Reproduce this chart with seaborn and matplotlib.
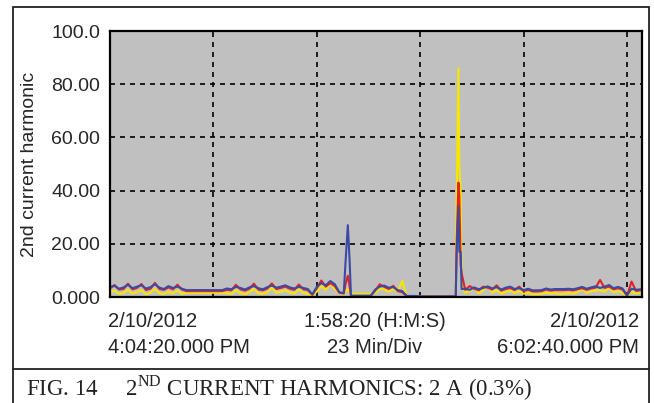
import pandas as pd
import matplotlib.pyplot as plt
from matplotlib.lines import Line2D
from matplotlib.patches import Rectangle
import seaborn as sns

# sample times in minutes after 4:04:20 PM (span 1:58:20), extra samples around the two spikes
minutes = (list(range(0, 53)) + [52.4, 52.9, 53.3, 53.6] + list(range(54, 77))
           + [76.9, 77.1, 77.5, 77.7, 78.0, 78.2] + list(range(79, 119)))

yellow = [1.8, 2.4, 1.2, 1.5, 2.8, 1.3, 1.9, 2.6, 1.0, 1.6, 3.0, 1.4, 1.1, 2.0, 1.3, 2.5, 1.2,
          1.6, 1.6, 1.6, 1.6, 1.6, 1.6, 1.6, 1.6, 1.6,
          1.4, 1.1, 2.6, 1.5, 1.0, 1.7, 3.1, 1.3, 1.2, 1.8, 3.4, 1.6, 2.0, 2.5, 1.7, 1.3, 2.9, 1.5, 1.2,
          0.6,
          2.0, 4.1, 2.7, 5.0, 3.0,
          1.4, 1.2,
          2.0, 3.0, 2.0, 1.2,
          1.2, 1.2, 1.2, 1.2, 1.2,
          1.5, 3.1, 2.9, 2.0, 3.0, 2.0, 6.0,
          0.3, 0.3, 0.3,
          0.2, 0.2, 0.2, 0.2, 0.2, 0.2, 0.2, 0.2,
          0.2, 35.0, 86.0, 49.0, 40.0, 5.0,
          1.6, 2.2, 3.5, 1.4, 2.4, 4.2, 1.7, 2.6, 1.3, 1.9, 2.4, 1.5, 2.2, 1.2, 1.6, 1.0, 1.0, 1.1, 1.6, 1.3,
          1.5, 1.0, 1.2, 1.4, 1.3, 1.8, 3.0, 1.5, 2.1, 2.4, 2.6, 2.0, 3.6, 1.8, 2.2, 1.6, 0.4, 2.0, 1.4, 1.6]

red = [3.2, 4.5, 2.8, 3.0, 5.0, 2.9, 3.4, 4.9, 2.6, 3.1, 5.3, 3.0, 2.7, 3.6, 2.9, 4.6, 2.8,
       2.2, 2.2, 2.2, 2.2, 2.2, 2.2, 2.2, 2.2, 2.2,
       2.7, 2.5, 4.6, 2.9, 2.4, 3.1, 5.0, 2.8, 2.5, 3.2, 5.1, 3.0, 3.4, 3.9, 3.1, 2.7, 4.7, 2.9, 2.6,
       0.8,
       3.3, 6.2, 3.9, 5.2, 4.1,
       1.6, 1.3,
       5.0, 8.0, 4.0, 0.4,
       0.4, 0.4, 0.4, 0.4, 0.4,
       2.4, 4.8, 3.8, 3.0, 4.2, 2.2, 1.8,
       0.3, 0.3, 0.3,
       0.2, 0.2, 0.2, 0.2, 0.2, 0.2, 0.2, 0.2,
       0.2, 20.0, 43.0, 38.0, 12.0, 9.0,
       2.7, 4.1, 3.1, 2.5, 3.9, 3.5, 2.8, 4.4, 2.4, 3.0, 3.4, 2.6, 3.9, 2.2, 2.7, 2.1, 2.1, 2.2, 2.8, 2.4,
       2.6, 2.6, 2.6, 2.7, 2.5, 2.9, 3.3, 2.7, 3.2, 3.5, 6.4, 3.4, 3.9, 2.9, 3.3, 2.8, 0.5, 5.8, 2.3, 2.5]

blue = [3.8, 4.2, 3.1, 3.6, 4.6, 3.3, 3.9, 4.4, 3.2, 3.7, 4.8, 3.5, 3.0, 4.1, 3.4, 3.9, 3.1,
        2.6, 2.6, 2.6, 2.6, 2.6, 2.6, 2.6, 2.6, 2.6,
        3.2, 2.9, 3.8, 3.4, 2.8, 3.6, 4.1, 3.3, 2.9, 3.7, 4.3, 3.5, 3.9, 4.4, 3.6, 3.2, 3.8, 3.4, 3.0,
        1.0,
        3.8, 5.2, 4.4, 6.0, 4.8,
        1.8, 1.5,
        13.5, 27.0, 13.5, 0.5,
        0.5, 0.5, 0.5, 0.5, 0.5,
        2.8, 3.9, 4.3, 3.5, 3.7, 2.6, 2.2,
        0.4, 0.4, 0.4,
        0.2, 0.2, 0.2, 0.2, 0.2, 0.2, 0.2, 0.2,
        0.2, 17.0, 34.0, 17.0, 17.0, 3.0,
        3.1, 2.7, 3.6, 2.9, 3.4, 4.0, 3.2, 3.7, 2.8, 3.5, 3.9, 3.0, 3.3, 2.6, 3.1, 2.5, 2.5, 2.6, 3.2, 2.8,
        3.0, 3.0, 3.0, 3.1, 2.9, 3.3, 3.8, 3.1, 3.6, 4.0, 3.4, 3.9, 4.5, 3.3, 3.8, 3.2, 0.6, 3.1, 2.7, 2.9]

y_ticks = [0, 20, 40, 60, 80, 100]
y_tick_labels = ['0.000', '20.00', '40.00', '60.00', '80.00', '100.0']
x_divs = [23, 46, 69, 92, 115]
span_min = 118.33

df = pd.concat([
    pd.DataFrame({'minuto': minutes, 'valor': yellow, 'fase': 'A'}),
    pd.DataFrame({'minuto': minutes, 'valor': red, 'fase': 'B'}),
    pd.DataFrame({'minuto': minutes, 'valor': blue, 'fase': 'C'}),
])

sns.set_style('white')
plt.rcParams['font.family'] = ['Liberation Sans', 'DejaVu Sans']
plt.rcParams['mathtext.fontset'] = 'custom'
plt.rcParams['mathtext.rm'] = 'Liberation Serif'

W, H = 654, 403
fig = plt.figure(figsize=(W / 100, H / 100), dpi=100)
ax = fig.add_axes([110 / W, 1 - 297 / H, (642 - 110) / W, (297 - 31) / H])
ax.set_facecolor('#c0c0c0')

sns.lineplot(data=df, x='minuto', y='valor', hue='fase', hue_order=['A', 'B', 'C'],
             palette={'A': '#f7e600', 'B': '#e4202a', 'C': '#3b4aa3'},
             estimator=None, linewidth=1.5, legend=False, ax=ax)

ax.set_xlim(0, span_min)
ax.set_ylim(0, 100)
ax.set_xticks(x_divs)
ax.set_xticklabels([])
ax.set_yticks(y_ticks)
ax.set_yticklabels(y_tick_labels, fontsize=14)
ax.tick_params(length=0, pad=7)
ax.set_xlabel('')
ax.set_ylabel('2nd current harmonic', fontsize=14)
ax.yaxis.set_label_coords(-0.135, 0.5)
ax.grid(True, color='black', linestyle=(0, (3, 3)), linewidth=1.2)
ax.set_axisbelow(True)
for s in ax.spines.values():
    s.set_color('black')
    s.set_linewidth(1.6)

# time labels under the plot
fs = 14.5
fig.text(108 / W, 1 - 327 / H, '2/10/2012', fontsize=fs, ha='left', va='baseline')
fig.text(108 / W, 1 - 353 / H, '4:04:20.000 PM', fontsize=fs, ha='left', va='baseline')
fig.text(375 / W, 1 - 327 / H, '1:58:20 (H:M:S)', fontsize=fs, ha='center', va='baseline')
fig.text(375 / W, 1 - 353 / H, '23 Min/Div', fontsize=fs, ha='center', va='baseline')
fig.text(639 / W, 1 - 327 / H, '2/10/2012', fontsize=fs, ha='right', va='baseline')
fig.text(639 / W, 1 - 353 / H, '6:02:40.000 PM', fontsize=fs, ha='right', va='baseline')

# frame + caption
fig.add_artist(Rectangle((13 / W, -0.02), (649 - 13) / W, 1 - 7 / H + 0.02,
                         transform=fig.transFigure, fill=False, ec='#222222', lw=1.3))
fig.add_artist(Line2D([13 / W, 649 / W], [1 - 369 / H, 1 - 369 / H],
                      transform=fig.transFigure, color='#222222', lw=1.3))
fig.text(26 / W, 1 - 396 / H, r'FIG. 14     2$^{\mathrm{ND}}$ CURRENT HARMONICS: 2 A (0.3%)',
         fontsize=16.5, family='Liberation Serif', ha='left', va='baseline', color='#222222')

plt.savefig('out.png', dpi=100, facecolor='white')
